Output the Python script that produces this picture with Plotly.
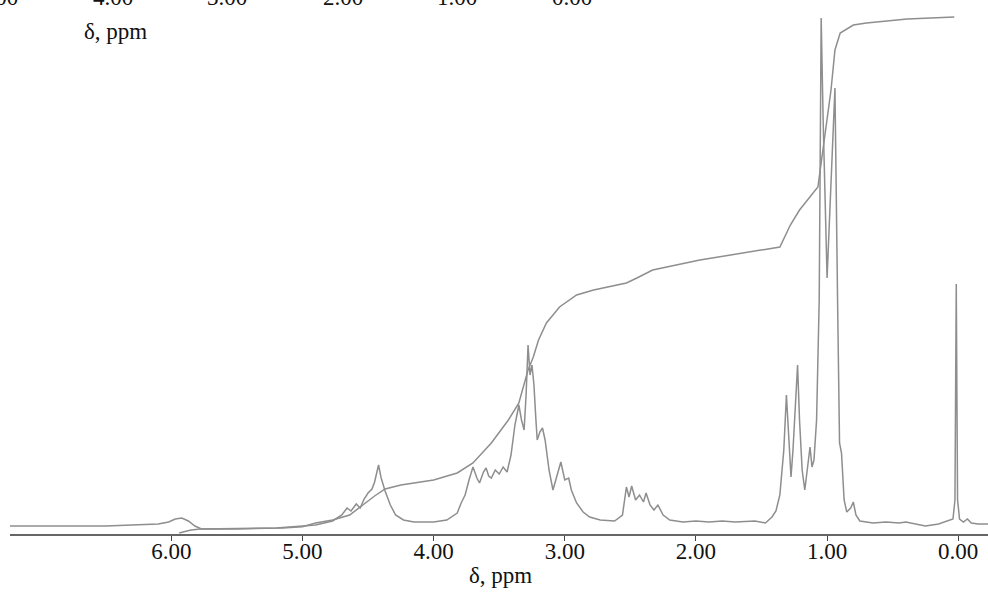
import plotly.graph_objects as go

# ---- data (ppm, relative intensity in a.u.) ----
spec_ppm = [7.23, 6.5, 6.1, 6.02, 5.97, 5.92, 5.87, 5.82, 5.77, 5.5, 5.2, 5.0, 4.9, 4.77,
            4.70, 4.66, 4.63, 4.59, 4.56, 4.53, 4.50, 4.47, 4.45, 4.42, 4.40, 4.37, 4.33,
            4.29, 4.23, 4.15, 4.00, 3.90, 3.82, 3.79, 3.76, 3.73, 3.70, 3.67, 3.65, 3.62,
            3.60, 3.58, 3.56, 3.53, 3.50, 3.47, 3.44, 3.41, 3.38, 3.35, 3.33, 3.31, 3.295,
            3.28, 3.265, 3.25, 3.235, 3.22, 3.21, 3.19, 3.17, 3.15, 3.12, 3.09, 3.06, 3.03,
            3.00, 2.97, 2.95, 2.91, 2.86, 2.81, 2.73, 2.62, 2.56, 2.53, 2.51, 2.49, 2.46,
            2.43, 2.40, 2.38, 2.35, 2.32, 2.29, 2.25, 2.20, 2.10, 2.00, 1.90, 1.80, 1.70,
            1.55, 1.47, 1.42, 1.39, 1.36, 1.33, 1.31, 1.29, 1.275, 1.26, 1.24, 1.225, 1.21,
            1.19, 1.17, 1.15, 1.13, 1.115, 1.10, 1.08, 1.06, 1.045, 1.03, 1.00, 0.96, 0.94,
            0.92, 0.905, 0.89, 0.87, 0.85, 0.82, 0.80, 0.78, 0.75, 0.65, 0.55, 0.45, 0.40,
            0.30, 0.25, 0.15, 0.08, 0.04, 0.025, 0.015, 0.005, -0.01, -0.04, -0.07, -0.10,
            -0.15, -0.23]
spec_int = [8, 8, 10, 12, 15, 16, 13, 8, 5, 5, 6, 8, 9, 13,
            19, 26, 23, 30, 26, 35, 41, 45, 52, 69, 56, 43, 29,
            19, 14, 12, 12, 14, 21, 31, 39, 54, 67, 56, 51, 62,
            66, 58, 56, 64, 60, 67, 62, 79, 109, 129, 114, 104, 139,
            189, 159, 169, 149, 114, 94, 102, 106, 94, 64, 44, 59, 72,
            54, 56, 44, 31, 22, 17, 14, 13, 19, 47, 37, 48, 34,
            39, 32, 41, 29, 24, 29, 19, 14, 12, 13, 12, 13, 12,
            13, 11, 17, 23, 39, 84, 139, 94, 57, 84, 134, 169, 114,
            64, 44, 69, 87, 67, 74, 114, 234, 516, 414, 256, 384, 446,
            234, 91, 81, 34, 22, 26, 32, 19, 13, 11, 12, 11, 12,
            9, 8, 10, 13, 15, 34, 250, 34, 15, 12, 15, 11,
            10, 10]

integ_ppm = [5.94, 5.85, 5.78, 5.5, 5.15, 5.0, 4.9, 4.77, 4.64, 4.52, 4.45, 4.37, 4.25,
             4.00, 3.82, 3.70, 3.56, 3.43, 3.35, 3.28, 3.24, 3.20, 3.14, 3.04, 2.91, 2.78,
             2.53, 2.45, 2.33, 1.97, 1.6, 1.36, 1.28, 1.21, 1.07, 1.03, 0.97, 0.94, 0.90,
             0.80, 0.70, 0.39, 0.03]
integ_val = [1, 4, 5, 5.5, 6, 7.3, 11, 14, 19, 31, 38, 45, 49,
             54, 61, 71, 91, 114, 131, 164, 177, 194, 211, 227, 239, 244,
             251, 256, 264, 274, 282, 287, 309, 324, 347, 384, 444, 484, 501,
             509, 511, 515, 517]

tick_vals = [0, 1, 2, 3, 4, 5, 6]
tick_text = ["0.00", "1.00", "2.00", "3.00", "4.00", "5.00", "6.00"]

# remnant of the panel above (cut off at the top of the picture)
top_labels = ["5.00", "4.00", "3.00", "2.00", "1.00", "0.00"]
top_label_px = [-2, 113, 227, 343, 457, 572]

LINE = "#8e8e8e"
FONT = "Liberation Serif"
FS = 23

fig = go.Figure()
fig.add_trace(go.Scatter(x=spec_ppm, y=spec_int, mode="lines",
                         line=dict(color=LINE, width=1.5), hoverinfo="skip"))
fig.add_trace(go.Scatter(x=integ_ppm, y=integ_val, mode="lines",
                         line=dict(color=LINE, width=1.5), hoverinfo="skip"))

W, H = 988, 595
L, R, T, B = 10, 0, 0, 61
pw, ph = W - L - R, H - T - B

def px_x(x):
    return (x - L) / pw

def px_y(y):
    return (H - B - y) / ph

annotations = []
for lab, xp in zip(top_labels, top_label_px):
    annotations.append(dict(text=lab, x=px_x(xp), y=px_y(-3), xref="paper", yref="paper",
                            xanchor="center", yanchor="middle", showarrow=False,
                            font=dict(family=FONT, size=FS, color="#111")))
annotations.append(dict(text="δ, ppm", x=px_x(115), y=px_y(31), xref="paper", yref="paper",
                        xanchor="center", yanchor="middle", showarrow=False,
                        font=dict(family=FONT, size=FS, color="#111")))
annotations.append(dict(text="δ, ppm", x=px_x(500), y=px_y(575), xref="paper", yref="paper",
                        xanchor="center", yanchor="middle", showarrow=False,
                        font=dict(family=FONT, size=FS, color="#111")))

fig.update_layout(
    width=W, height=H,
    margin=dict(l=L, r=R, t=T, b=B, autoexpand=False),
    paper_bgcolor="white", plot_bgcolor="white",
    showlegend=False,
    annotations=annotations,
    xaxis=dict(range=[7.23, -0.227], showgrid=False, zeroline=False, automargin=False,
               showline=True, linecolor="#666", linewidth=1.5,
               ticks="outside", ticklen=5, tickwidth=1, tickcolor="#444",
               tickvals=tick_vals, ticktext=tick_text, ticklabelstandoff=-9,
               tickfont=dict(family=FONT, size=FS, color="#111")),
    yaxis=dict(range=[0, 534], visible=False, showgrid=False, zeroline=False),
)

fig.write_html("out.html", config={"displayModeBar": False},
               post_script="document.body.style.margin='0';document.body.style.overflow='hidden';")
